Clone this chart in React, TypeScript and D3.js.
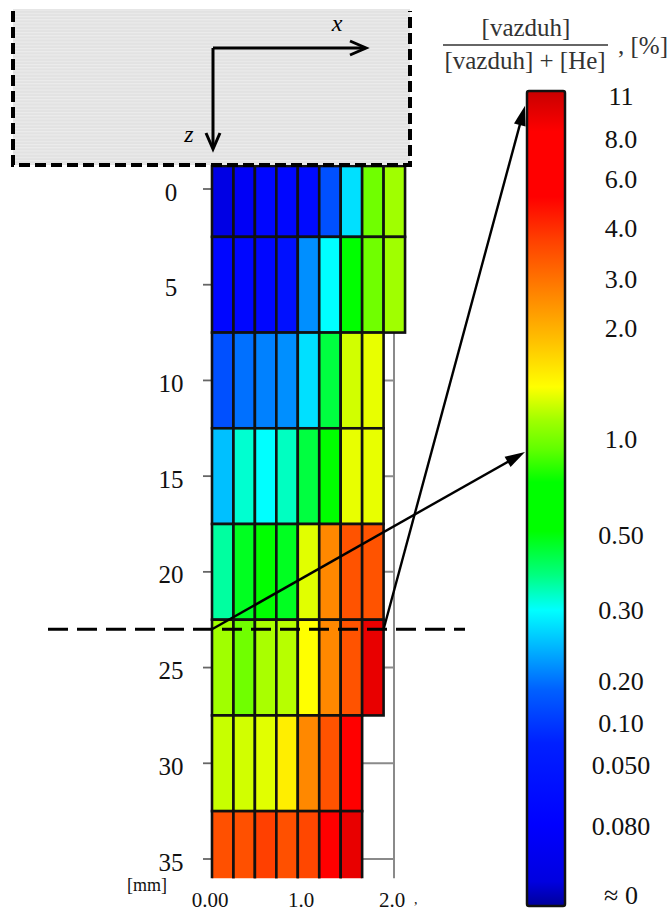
import React from "react";
import * as d3 from "d3";

// ---- data ----
const depthEdges = [-1.2, 2.5, 7.5, 12.5, 17.5, 22.5, 27.5, 32.5, 36.3]; // mm
const colWidthMm = 0.2357;
// colour level (position on the colour bar, 0 = bottom, 1 = top) of each cell
const cellLevels: number[][] = [
  [0.04, 0.08, 0.12, 0.12, 0.13, 0.249, 0.344, 0.569, 0.596],
  [0.12, 0.12, 0.12, 0.15, 0.294, 0.363, 0.49, 0.569, 0.596],
  [0.249, 0.275, 0.285, 0.294, 0.344, 0.433, 0.617, 0.627],
  [0.324, 0.379, 0.363, 0.384, 0.433, 0.49, 0.627, 0.627],
  [0.395, 0.446, 0.49, 0.446, 0.624, 0.748, 0.799, 0.799],
  [0.596, 0.569, 0.6, 0.606, 0.637, 0.748, 0.799, 0.971],
  [0.613, 0.617, 0.624, 0.652, 0.748, 0.799, 0.9],
  [0.802, 0.802, 0.817, 0.802, 0.81, 0.88, 0.971],
];
const yTicks = [0, 5, 10, 15, 20, 25, 30, 35];
const xTicks = [0, 1, 2];
const xTickLabels = ["0.00", "1.0", "2.0"];
const cbTickLabels = ["11", "8.0", "6.0", "4.0", "3.0", "2.0", "1.0", "0.50", "0.30", "0.20", "0.10", "0.050", "0.080", "≈ 0"];
const cbTickLevels = [0.993, 0.94, 0.891, 0.831, 0.769, 0.708, 0.573, 0.454, 0.362, 0.275, 0.224, 0.173, 0.098, 0.013];
const cmapLevels = [0, 0.03, 0.1, 0.2, 0.265, 0.314, 0.363, 0.406, 0.46, 0.52, 0.56, 0.596, 0.637, 0.694, 0.756, 0.817, 0.87, 0.95, 1];
const cmapColors = ["#00009a", "#0000e0", "#0000ff", "#0020ff", "#0060ff", "#00b0ff", "#00ffff", "#00ff80", "#00ff00", "#00ff00", "#60ff00", "#a0ff00", "#ffff00", "#ffc000", "#ff8000", "#ff4000", "#ff0000", "#ff0000", "#c80000"];
const cutDepth = 23; // mm, section line
const arrowLevels = [0.557, 0.982];

const W = 667, H = 911;
const serif = "'Liberation Serif', 'Times New Roman', serif";

export default function App() {
  const x = d3.scaleLinear().domain([0, 2]).range([212, 394]);
  const y = d3.scaleLinear().domain([0, 35]).range([189, 859]);
  const cb = d3.scaleLinear().domain([0, 1]).range([906, 91]);
  const color = d3.scaleLinear<string>().domain(cmapLevels).range(cmapColors).interpolate(d3.interpolateRgb);
  const plotBottom = y(36);

  const cells: JSX.Element[] = [];
  cellLevels.forEach((row, r) => {
    row.forEach((lv, c) => {
      const x0 = x(c * colWidthMm), x1 = x((c + 1) * colWidthMm);
      const y0 = y(depthEdges[r]), y1 = y(depthEdges[r + 1]);
      cells.push(
        <rect key={`${r}-${c}`} x={x0} y={y0} width={x1 - x0} height={y1 - y0}
          fill={color(lv)} stroke="#111" strokeWidth={2.6} />
      );
    });
  });

  const cutY = y(cutDepth);
  const start1 = [x(0), cutY];
  const start2 = [x(cellLevels[5].length * colWidthMm), cutY];
  const tips = arrowLevels.map((l) => [525, cb(l)]);

  const arrowHead = (from: number[], to: number[], len = 20, half = 6) => {
    const dx = to[0] - from[0], dy = to[1] - from[1];
    const d = Math.hypot(dx, dy);
    const ux = dx / d, uy = dy / d;
    const bx = to[0] - ux * len, by = to[1] - uy * len;
    return `M${to[0]},${to[1]} L${bx - uy * half},${by + ux * half} L${bx + uy * half},${by - ux * half} Z`;
  };
  const lineEnd = (from: number[], to: number[], back = 14) => {
    const dx = to[0] - from[0], dy = to[1] - from[1];
    const d = Math.hypot(dx, dy);
    return [to[0] - (dx / d) * back, to[1] - (dy / d) * back];
  };

  return (
    <svg width={W} height={H} style={{ position: "absolute", left: 0, top: 0, background: "#fff" }}>
      <defs>
        <pattern id="stripes" width="6" height="3.2" patternUnits="userSpaceOnUse">
          <rect width="6" height="3.2" fill="#e2e2e2" />
          <rect width="6" height="1.1" fill="#ececec" />
        </pattern>
        <linearGradient id="cbgrad" x1="0" y1="1" x2="0" y2="0">
          {cmapLevels.map((l, i) => (
            <stop key={i} offset={l} stopColor={cmapColors[i]} />
          ))}
        </linearGradient>
        <clipPath id="plotclip">
          <rect x={0} y={0} width={W} height={plotBottom} />
        </clipPath>
      </defs>

      {/* right axis line and ticks */}
      <line x1={x(2)} x2={x(2)} y1={y(-1.2)} y2={plotBottom} stroke="#8a8a8a" strokeWidth={2} />
      {yTicks.map((t) => (
        <line key={"rt" + t} x1={x(2) - 40} x2={x(2)} y1={y(t)} y2={y(t)} stroke="#8a8a8a" strokeWidth={2} />
      ))}
      {/* left ticks */}
      {yTicks.map((t) => (
        <line key={"lt" + t} x1={x(0) - 9} x2={x(0)} y1={y(t)} y2={y(t)} stroke="#666" strokeWidth={1.8} />
      ))}

      <g clipPath="url(#plotclip)">{cells}</g>

      {/* y tick labels */}
      {yTicks.map((t) => (
        <text key={"yl" + t} x={171} y={y(t) + 3} textAnchor="middle" dominantBaseline="central"
          fontFamily={serif} fontSize={25} fill="#111">{t}</text>
      ))}
      {xTicks.map((t, i) => (
        <text key={"xl" + t} x={x(t) - 2} y={907} textAnchor="middle"
          fontFamily={serif} fontSize={21} fill="#111">{xTickLabels[i]}</text>
      ))}
      <text x={414} y={904} fontFamily={serif} fontSize={14} fill="#111">,</text>
      <text x={147} y={891} textAnchor="middle" fontFamily={serif} fontSize={18} fill="#111">[mm]</text>

      {/* grey block with dashed border */}
      <rect x={13} y={9} width={397} height={156} fill="url(#stripes)" />
      <path d="M13,11 L13,165 L410,165 L410,11" fill="none" stroke="#000" strokeWidth={4}
        strokeDasharray="11,5" />
      {/* axes arrows */}
      <path d="M213,48 L365,48" stroke="#000" strokeWidth={3} fill="none" />
      <path d="M350,41 L366,48 L350,55" stroke="#000" strokeWidth={3} fill="none" />
      <path d="M213,48 L213,148" stroke="#000" strokeWidth={3} fill="none" />
      <path d="M206,133 L213,149 L220,133" stroke="#000" strokeWidth={3} fill="none" />
      <text x={337} y={31} textAnchor="middle" fontFamily={serif} fontStyle="italic" fontSize={24}>x</text>
      <text x={189} y={142} textAnchor="middle" fontFamily={serif} fontStyle="italic" fontSize={24}>z</text>

      {/* section line */}
      <line x1={48} x2={465} y1={cutY} y2={cutY} stroke="#000" strokeWidth={3} strokeDasharray="20,9" />

      {/* arrows to colour bar */}
      {[start1, start2].map((s, i) => {
        const e = lineEnd(s, tips[i]);
        return (
          <g key={"ar" + i}>
            <line x1={s[0]} y1={s[1]} x2={e[0]} y2={e[1]} stroke="#000" strokeWidth={2.4} />
            <path d={arrowHead(s, tips[i])} fill="#000" />
          </g>
        );
      })}

      {/* colour bar */}
      <rect x={527} y={cb(1)} width={38} height={cb(0) - cb(1)} fill="url(#cbgrad)" stroke="#111" strokeWidth={2.5} rx={2} />
      {cbTickLabels.map((lab, i) => (
        <text key={"cb" + i} x={621} y={cb(cbTickLevels[i])} textAnchor="middle" dominantBaseline="central"
          fontFamily={serif} fontSize={26} fill="#111">{lab}</text>
      ))}

      {/* title fraction */}
      <text x={526} y={36} textAnchor="middle" fontFamily={serif} fontSize={25} fill="#333">[vazduh]</text>
      <line x1={443} x2={608} y1={45} y2={45} stroke="#333" strokeWidth={1.5} />
      <text x={525} y={69} textAnchor="middle" fontFamily={serif} fontSize={25} fill="#333">[vazduh] + [He]</text>
      <text x={618} y={54} fontFamily={serif} fontSize={25} fill="#333">, [%]</text>
    </svg>
  );
}
